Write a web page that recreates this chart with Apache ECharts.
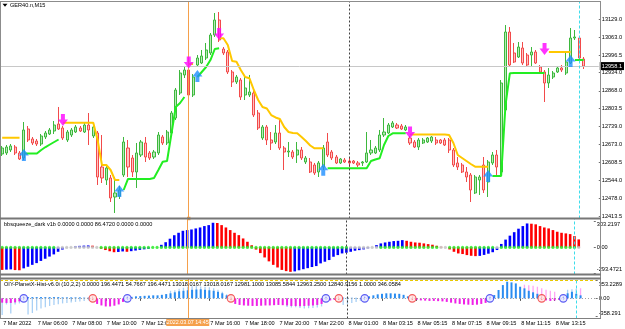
<!DOCTYPE html>
<html>
<head>
<meta charset="utf-8">
<title>GER40.n,M15</title>
<script src="https://cdn.jsdelivr.net/npm/echarts@6.0.0/dist/echarts.min.js"></script>
<style>
  html, body { margin: 0; padding: 0; background: #ffffff; }
  #chart { width: 625px; height: 329px; }
</style>
</head>
<body>
<div id="chart"></div>
<script>
// ---- values (GER40.n, M15, 7-8 Mar 2022) ----
const timeLabels = ['7 Mar 2022', '7 Mar 06:00', '7 Mar 08:00', '7 Mar 10:00', '7 Mar 12:00', '7 Mar 14:00',
  '7 Mar 16:00', '7 Mar 18:00', '7 Mar 20:00', '7 Mar 22:00', '8 Mar 01:00', '8 Mar 03:15', '8 Mar 05:15',
  '8 Mar 07:15', '8 Mar 09:15', '8 Mar 11:15', '8 Mar 13:15'];
const barCount = 138;          // time slots, the last few stay empty (chart shift)
const cursorBar = 43;
const cursorTime = '2022.03.07 14:45';
const daySepBar = 80;
const cyanBar = 133;

const priceTicks = [13129.0, 13063.0, 12996.5, 12934.0, 12868.0, 12803.5, 12739.0, 12673.0, 12608.5, 12544.0, 12478.0, 12413.5];
const lastPrice = 12958.1;

const opens = [
  12638.8, 12642.5, 12653.4, 12664.2, 12642.5, 12624.3, 12729.6, 12693.3, 12686.0, 12675.1,
  12700.6, 12711.5, 12722.3, 12747.8, 12733.2, 12689.7, 12707.8, 12718.7, 12733.2, 12718.7,
  12744.1, 12704.2, 12715.1, 12591.6, 12544.4, 12551.7, 12482.7, 12486.3, 12562.6, 12660.6,
  12624.3, 12573.5, 12635.2, 12678.8, 12642.5, 12627.9, 12642.5, 12700.6, 12678.8, 12715.1,
  12769.5, 12860.3, 12925.7, 12943.8, 12853.1, 12962.0, 12969.3, 12987.4, 13005.6, 13070.9,
  13125.4, 13020.1, 13009.2, 12936.6, 12900.3, 12907.5, 12853.1, 12853.1, 12860.3, 12787.7,
  12696.9, 12736.9, 12689.7, 12682.4, 12715.1, 12660.6, 12646.1, 12646.1, 12635.2, 12653.4,
  12609.8, 12609.8, 12598.9, 12573.5, 12591.6, 12682.4, 12646.1, 12627.9, 12606.2, 12617.0,
  12613.4, 12613.4, 12606.2, 12606.2, 12609.8, 12642.5, 12642.5, 12653.4, 12707.8, 12715.1,
  12736.9, 12744.1, 12740.5, 12726.0, 12696.9, 12682.4, 12664.2, 12678.8, 12682.4, 12686.0,
  12689.7, 12689.7, 12689.7, 12689.7, 12653.4, 12606.2, 12598.9, 12573.5, 12562.6, 12497.2,
  12544.4, 12598.9, 12537.2, 12606.2, 12635.2, 12573.5, 12798.6, 13081.8, 13005.6, 12991.0,
  13023.7, 12998.3, 12998.3, 13009.2, 12954.7, 12936.6, 12896.6, 12918.4, 12936.6, 12951.1,
  12932.9, 12969.3, 13060.0, 13060.0, 12983.8
];
const closes = [
  12660.6, 12664.2, 12667.9, 12642.5, 12620.7, 12726.0, 12689.7, 12678.8, 12675.1, 12704.2,
  12715.1, 12726.0, 12744.1, 12729.6, 12696.9, 12718.7, 12726.0, 12736.9, 12722.3, 12744.1,
  12726.0, 12736.9, 12555.3, 12551.7, 12588.0, 12479.1, 12497.2, 12508.1, 12682.4, 12591.6,
  12573.5, 12642.5, 12682.4, 12627.9, 12624.3, 12646.1, 12707.8, 12678.8, 12718.7, 12787.7,
  12871.2, 12932.9, 12943.8, 12853.1, 12918.4, 12987.4, 12994.7, 13016.5, 13070.9, 13125.4,
  13052.8, 13005.6, 12936.6, 12900.3, 12918.4, 12845.8, 12878.5, 12864.0, 12780.4, 12733.2,
  12736.9, 12689.7, 12678.8, 12715.1, 12660.6, 12646.1, 12649.7, 12627.9, 12653.4, 12624.3,
  12624.3, 12573.5, 12569.8, 12606.2, 12660.6, 12635.2, 12624.3, 12606.2, 12620.7, 12609.8,
  12606.2, 12606.2, 12598.9, 12609.8, 12642.5, 12653.4, 12660.6, 12707.8, 12718.7, 12744.1,
  12751.4, 12733.2, 12729.6, 12736.9, 12678.8, 12664.2, 12689.7, 12689.7, 12696.9, 12700.6,
  12678.8, 12678.8, 12671.5, 12653.4, 12598.9, 12591.6, 12573.5, 12555.3, 12508.1, 12555.3,
  12555.3, 12508.1, 12609.8, 12635.2, 12591.6, 12896.6, 13081.8, 12962.0, 12972.9, 13027.3,
  12969.3, 12962.0, 13009.2, 12969.3, 12936.6, 12896.6, 12925.7, 12932.9, 12951.1, 12943.8,
  12972.9, 13060.0, 13063.7, 12987.4, 12958.1
];
const lows = [
  12631.6, 12635.2, 12646.1, 12635.2, 12617.0, 12617.0, 12682.4, 12671.5, 12667.9, 12667.9,
  12693.3, 12707.8, 12711.5, 12726.0, 12689.7, 12682.4, 12700.6, 12715.1, 12718.7, 12715.1,
  12671.5, 12696.9, 12526.3, 12533.5, 12526.3, 12464.5, 12424.6, 12475.4, 12555.3, 12555.3,
  12555.3, 12515.4, 12627.9, 12609.8, 12617.0, 12620.7, 12635.2, 12671.5, 12671.5, 12707.8,
  12762.3, 12853.1, 12914.8, 12845.8, 12845.8, 12954.7, 12965.6, 12980.1, 12998.3, 13063.7,
  13045.5, 12998.3, 12929.3, 12882.1, 12893.0, 12834.9, 12834.9, 12845.8, 12773.2, 12726.0,
  12689.7, 12671.5, 12653.4, 12675.1, 12653.4, 12580.7, 12627.9, 12620.7, 12606.2, 12617.0,
  12602.5, 12569.8, 12562.6, 12555.3, 12580.7, 12627.9, 12617.0, 12602.5, 12602.5, 12606.2,
  12591.6, 12602.5, 12591.6, 12595.3, 12606.2, 12635.2, 12638.8, 12646.1, 12700.6, 12711.5,
  12733.2, 12729.6, 12726.0, 12722.3, 12671.5, 12660.6, 12653.4, 12675.1, 12678.8, 12678.8,
  12671.5, 12675.1, 12667.9, 12642.5, 12591.6, 12580.7, 12569.8, 12537.2, 12464.5, 12493.6,
  12490.0, 12497.2, 12482.7, 12598.9, 12562.6, 12562.6, 12791.3, 12954.7, 12969.3, 12987.4,
  12962.0, 12958.4, 12954.7, 12965.6, 12932.9, 12827.6, 12878.5, 12911.2, 12932.9, 12936.6,
  12925.7, 12965.6, 13052.8, 12980.1, 12947.5
];
const highs = [
  12667.9, 12671.5, 12675.1, 12671.5, 12649.7, 12755.0, 12740.5, 12700.6, 12693.3, 12711.5,
  12722.3, 12733.2, 12758.6, 12809.5, 12740.5, 12726.0, 12733.2, 12744.1, 12740.5, 12751.4,
  12787.7, 12744.1, 12722.3, 12707.8, 12598.9, 12562.6, 12555.3, 12522.6, 12700.6, 12689.7,
  12635.2, 12678.8, 12689.7, 12700.6, 12649.7, 12653.4, 12718.7, 12707.8, 12726.0, 12795.0,
  12878.5, 12943.8, 12958.4, 12958.4, 12929.3, 12998.3, 13016.5, 13041.9, 13078.2, 13150.8,
  13154.4, 13027.3, 13016.5, 12943.8, 12925.7, 12914.8, 12918.4, 12925.7, 12871.2, 12798.6,
  12744.1, 12744.1, 12718.7, 12744.1, 12769.5, 12667.9, 12682.4, 12653.4, 12682.4, 12664.2,
  12631.6, 12624.3, 12606.2, 12613.4, 12671.5, 12715.1, 12653.4, 12635.2, 12624.3, 12624.3,
  12624.3, 12617.0, 12613.4, 12613.4, 12718.7, 12689.7, 12667.9, 12726.0, 12769.5, 12751.4,
  12758.6, 12751.4, 12747.8, 12744.1, 12704.2, 12689.7, 12696.9, 12696.9, 12700.6, 12704.2,
  12700.6, 12693.3, 12696.9, 12696.9, 12660.6, 12627.9, 12606.2, 12591.6, 12569.8, 12562.6,
  12562.6, 12627.9, 12617.0, 12646.1, 12653.4, 12907.5, 13107.2, 13100.0, 13041.9, 13045.5,
  13045.5, 13005.6, 13027.3, 13016.5, 12962.0, 12943.8, 12951.1, 12940.2, 12958.4, 12962.0,
  13005.6, 13096.3, 13089.1, 13067.3, 12991.0
];

// trend line pieces: [first bar, values...]
const downTrendSegs = [
  [0, [12698.0, 12698.0, 12698.0, 12698.0, 12698.0]],
  [14, [12752.5, 12752.5, 12752.5, 12752.5, 12752.5, 12752.5, 12752.5, 12752.5, 12689.7, 12598.9, 12598.9, 12580.7, 12544.4, 12544.4]],
  [43, [12965.6, 12965.6]],
  [50, [13058.9, 13058.9, 13034.6, 12976.5, 12974.0, 12943.8, 12918.4, 12913.7, 12871.2, 12834.9, 12809.5, 12804.0,
        12780.4, 12771.4, 12765.9, 12736.9, 12718.7, 12715.1, 12714.0, 12700.6, 12686.0, 12669.7, 12659.5, 12659.5, 12659.5]],
  [94, [12709.6, 12709.6, 12709.6, 12709.6, 12709.6, 12709.6, 12709.6, 12709.6, 12709.6, 12707.8, 12678.8, 12635.2,
        12624.3, 12613.4, 12602.5, 12592.7, 12592.7, 12592.7, 12592.7]],
  [126, [13009.2, 13009.2, 13009.2, 13009.2, 13009.2, 13009.2]]
];
const upTrendSegs = [
  [5, [12640.6, 12640.6, 12640.6, 12640.6, 12653.4, 12664.2, 12673.3, 12682.4, 12691.5]],
  [28, [12508.1, 12548.1, 12548.1, 12548.1, 12548.1, 12548.1, 12548.1, 12551.7, 12580.7, 12610.9, 12613.4, 12711.5,
        12809.5, 12824.0, 12845.8]],
  [45, [12918.4, 12936.6, 12954.7, 12980.1, 13020.1, 13022.6]],
  [75, [12586.9, 12586.9, 12586.9, 12586.9, 12586.9, 12586.9, 12586.9, 12586.9, 12586.9, 12586.9, 12613.4, 12618.9,
        12623.2, 12671.5, 12704.2, 12714.0, 12714.0, 12714.0, 12714.0]],
  [113, [12558.9, 12558.9, 12558.9, 12816.7, 12931.8, 12932.9, 12932.9, 12932.9, 12932.9, 12932.9, 12932.9, 12932.9, 12932.9]],
  [132, [12980.1, 12980.1, 12980.1]]
];
const sellArrows = [[14, 12762.3], [43, 12971.0], [50, 13074.5], [94, 12717.0], [125, 13020.0]];
const buyArrows = [[5, 12635.2], [27, 12504.5], [45, 12922.0], [74, 12582.0], [112, 12559.0], [131, 12976.5]];

// bbsqueeze_dark window
const sqzLevels = [303.2197, 0, -293.4721];
const sqzLevelText = ['303.2197', '0.00', '-293.4721'];
const sqzHist = [
  -258, -255, -252, -260, -262, -240, -222, -200, -180, -155,
  -130, -105, -80, -50, -25, -10, -4, 12, 18, 21,
  23, 20, 6, -14, -30, -44, -55, -52, -46, -50,
  -43, -36, -28, -22, -15, -8, 6, 30, 60, 100,
  140, 168, 191, 199, 206, 218, 229, 245, 256, 283,
  280, 256, 229, 199, 168, 141, 103, 65, 25, -25,
  -65, -115, -160, -200, -230, -258, -272, -280, -275, -262,
  -250, -238, -225, -214, -183, -164, -145, -107, -88, -69,
  -61, -50, -38, -31, -23, -11, 4, 27, 46, 57,
  65, 73, 76, 84, 76, 65, 57, 54, 46, 38,
  31, 19, 8, -3, -23, -50, -69, -76, -88, -96,
  -100, -97, -86, -72, -55, -30, 40, 90, 135, 175,
  215, 245, 275, 272, 265, 245, 229, 218, 199, 180,
  168, 161, 153, 130, 92
];
const sqzColors =
  'rbbrrbbbbb' + 'bbbbbggbbb' + 'brgrrrrbbr' + 'bbbbbggbbb' + 'bbbbbbbbbb' +
  'rrrrrrrrrr' + 'rrrrrrrrbb' + 'bbbbbbbbbb' + 'bbbbbbgbbb' + 'bbbbrrrrrr' +
  'rrrgrrrrrr' + 'rbbbbbbbbb' + 'bbbrrrrrrr' + 'rrrrr';
const sqzGrayDots = [[13, 22], [81, 87], [102, 103], [115, 115], [134, 134]];

// OIY-PlanetX-Hist window
const pxLevels = [353.2289, 0, -358.291];
const pxLevelText = ['353.2289', '0.00', '-358.291'];
const pxHist = [
  -85, -90, -90, -80, -60, null, 25, 25, 25, 25,
  25, 25, 25, 25, 20, 20, 20, 20, 20, 15,
  15, null, -110, -140, -160, -160, -145, -120, -70, null,
  30, 40, 45, 50, 55, 60, 60, 70, 85, 100,
  120, 140, 150, 160, 170, 175, 180, 170, 160, 150,
  130, 100, 60, null, -110, -130, -140, -145, -150, -150,
  -145, -140, -140, -135, -130, -135, -140, -150, -150, -155,
  -150, -145, -140, -130, -110, null, -40, -30, null, 15,
  15, 12, 10, 8, null, 40, 60, 80, 90, 100,
  100, 95, 90, 70, 40, null, -30, -40, -45, -50,
  -50, -55, -60, -70, -85, -100, -110, -120, -125, -130,
  -125, -110, -90, null, 66, 165, 263, 329, 316, 296,
  230, 198, 150, 120, 90, null, -40, -50, -40, -30,
  null, 100, 130, 90, 60
];
const pxShade = [
  -330, -120, -300, -120, -100, null, -320, -290, -240, -200,
  -175, -150, -130, -115, -100, -90, -80, -70, -60, -50,
  -40, null, null, null, null, null, null, null, null, null,
  null, null, null, null, null, null, null, null, null, 150,
  160, 190, 210, 230, 240, 240, 235, 230, 220, 200,
  170, 130, 80, null, null, null, null, null, null, null,
  null, null, null, null, null, null, -170, -180, -175, -190,
  -200, -195, -190, -180, -160, null, null, null, null, -130,
  -110, -90, -70, -50, null, null, null, null, null, null,
  null, null, null, null, null, null, null, null, null, null,
  null, null, null, null, null, null, null, null, null, null,
  null, null, null, null, null, null, null, null, null, null,
  null, 270, 260, 250, 230, 200, 170, 150, 130, null,
  null, 170, 180, 190, 200
];
const pxShadePink = [[121, 128], [134, 134]];
const pxBuyDots = [5, 29, 75, 84, 113, 130];
const pxSellDots = [21, 53, 78, 95, 125];

// ---- chart ----
const FONT = "'Liberation Sans', Arial, sans-serif";
const FS = 5.6;
const txt = { fontFamily: FONT, fontSize: FS, color: '#000' };

const cats = [];
for (let i = 0; i < barCount; i++) cats.push('b' + i);

function placeSegs(segs) {
  const out = new Array(opens.length).fill(null);
  segs.forEach(([start, vals]) => vals.forEach((v, k) => { out[start + k] = v; }));
  return out;
}
function inRanges(i, ranges) {
  return ranges.some(([a, b]) => i >= a && i <= b);
}
function vLines(handles) {
  const cursor = { xAxis: cursorBar, lineStyle: { color: '#F5A04B', width: 1, type: 'solid' } };
  if (handles) {
    cursor.symbol = ['rect', 'rect'];
    cursor.symbolSize = 3.5;
  }
  return [
    cursor,
    { xAxis: daySepBar, lineStyle: { color: '#404040', width: 1, type: [2, 2] } },
    { xAxis: cyanBar, lineStyle: { color: '#3CDDEB', width: 1, type: [3, 2] } }
  ];
}
function levelAxis(gridIndex, min, max, levels, texts) {
  const near = (a, b) => Math.abs(a - b) < 1e-6;
  return {
    type: 'value', gridIndex, position: 'right', min, max,
    splitLine: { show: false }, axisLine: { show: false },
    axisTick: { show: true, customValues: levels, length: 2, lineStyle: { color: '#707070' } },
    axisLabel: {
      customValues: levels, margin: 3, ...txt,
      formatter: v => near(v, levels[0]) ? '{t|' + texts[0] + '}'
        : near(v, levels[2]) ? '{b|' + texts[2] + '}' : texts[1],
      rich: {
        t: { padding: [7, 0, 0, 0], ...txt },
        b: { padding: [0, 0, 7, 0], ...txt }
      }
    }
  };
}
const hiddenX = gridIndex => ({ type: 'category', gridIndex, data: cats, boundaryGap: true, show: false });

const option = {
  animation: false,
  backgroundColor: '#ffffff',
  textStyle: { fontFamily: FONT },
  grid: [
    { left: -0.2, right: 25, top: 1.5, height: 217 },
    { left: -0.2, right: 25, top: 218.5, height: 56 },
    { left: -0.2, right: 25, top: 278.5, height: 40 }
  ],
  xAxis: [
    hiddenX(0),
    hiddenX(1),
    {
      type: 'category', gridIndex: 2, data: cats, boundaryGap: true,
      axisLine: { show: false }, splitLine: { show: false },
      axisTick: { show: true, alignWithLabel: true, length: 2.5, interval: i => i % 8 === 0 && i / 8 < timeLabels.length,
        lineStyle: { color: '#505050' } },
      axisLabel: { show: true, interval: i => i % 8 === 0, align: 'left', margin: 1.5, padding: [0, 0, 0, 1], ...txt,
        formatter: (v, i) => (i === cursorBar - 3 ? '' : (timeLabels[i / 8] || '')) }
    },
    hiddenX(2)
  ],
  yAxis: [
    {
      type: 'value', gridIndex: 0, position: 'right', min: 12404.6, max: 13192.6,
      splitLine: { show: false }, axisLine: { show: false },
      axisTick: { show: true, customValues: priceTicks, length: 2, lineStyle: { color: '#707070' } },
      axisLabel: { customValues: priceTicks, margin: 3, formatter: v => v.toFixed(1), ...txt }
    },
    levelAxis(1, -310.7, 331.9, sqzLevels, sqzLevelText),
    levelAxis(2, -397.9, 392.7, pxLevels, pxLevelText)
  ],
  series: [
    {
      type: 'candlestick', xAxisIndex: 0, yAxisIndex: 0, barWidth: 2.6,
      data: opens.map((o, i) => [o, closes[i], lows[i], highs[i]]),
      itemStyle: { color: '#B8EAB8', color0: '#FFC2C2', borderColor: '#3DB83D', borderColor0: '#F24A4A', borderWidth: 1 },
      markLine: {
        silent: true, symbol: ['none', 'none'], animation: false, label: { show: false },
        data: [
          { yAxis: lastPrice, lineStyle: { color: '#C8C8C8', width: 1, type: 'solid' },
            label: { show: true, position: 'end', formatter: lastPrice.toFixed(1), backgroundColor: '#000',
              color: '#fff', padding: [1, 2, 1, 2], distance: 1, fontFamily: FONT, fontSize: FS } },
          ...vLines(true)
        ]
      }
    },
    {
      type: 'line', xAxisIndex: 0, yAxisIndex: 0, data: placeSegs(downTrendSegs),
      symbol: 'none', connectNulls: false, lineStyle: { color: '#FFC800', width: 2 }
    },
    {
      type: 'line', xAxisIndex: 0, yAxisIndex: 0, data: placeSegs(upTrendSegs),
      symbol: 'none', connectNulls: false, lineStyle: { color: '#22EE22', width: 2 }
    },
    {
      type: 'scatter', xAxisIndex: 0, yAxisIndex: 0, data: sellArrows, z: 5,
      symbol: 'path://M3,0L7,0L7,5L10,5L5,11L0,5L3,5Z', symbolSize: [10, 12],
      itemStyle: { color: '#FF00FF' }
    },
    {
      type: 'scatter', xAxisIndex: 0, yAxisIndex: 0, data: buyArrows, z: 5,
      symbol: 'path://M5,0L10,6L7,6L7,11L3,11L3,6L0,6Z', symbolSize: [10, 12],
      itemStyle: { color: '#1E8FFF' }
    },
    {
      type: 'bar', xAxisIndex: 1, yAxisIndex: 1, barWidth: 2.6,
      data: sqzHist.map((v, i) => ({ value: v, itemStyle: { color: { b: '#0000FF', r: '#FF0000', g: '#C0C0C0' }[sqzColors[i]] } })),
      markLine: { silent: true, symbol: ['none', 'none'], animation: false, label: { show: false }, data: vLines(false) }
    },
    {
      type: 'scatter', xAxisIndex: 1, yAxisIndex: 1, symbolSize: 3.2, z: 4,
      data: sqzHist.map((v, i) => ({ value: [i, 0], itemStyle: { color: inRanges(i, sqzGrayDots) ? '#C4C4C4' : '#22EE22' } }))
    },
    {
      type: 'bar', xAxisIndex: 3, yAxisIndex: 2, barWidth: 1.3,
      data: pxShade.map((v, i) => ({ value: v, itemStyle: { color: inRanges(i, pxShadePink) ? '#FFA6F5' : '#A9D0F5' } }))
    },
    {
      type: 'bar', xAxisIndex: 2, yAxisIndex: 2, barWidth: 2,
      data: pxHist.map(v => ({ value: v, itemStyle: { color: v >= 0 ? '#2A8CF0' : '#F020E8' } })),
      markLine: {
        silent: true, symbol: ['none', 'none'], animation: false, label: { show: false },
        data: [
          { yAxis: pxLevels[0], lineStyle: { color: '#E8C800', width: 1, type: [3, 2] } },
          { yAxis: 0, lineStyle: { color: '#A0A0A0', width: 1, type: [1, 2] } },
          { xAxis: cursorBar, lineStyle: { color: '#F5A04B', width: 1, type: 'solid' },
            label: { show: true, position: 'start', formatter: cursorTime, backgroundColor: '#F5A04B', color: '#fff',
              padding: [1, 0.5, 1, 0.5], distance: 0.5, fontFamily: FONT, fontSize: 5.4 } },
          { xAxis: daySepBar, lineStyle: { color: '#404040', width: 1, type: [2, 2] } },
          { xAxis: cyanBar, lineStyle: { color: '#3CDDEB', width: 1, type: [3, 2] } }
        ]
      }
    },
    {
      type: 'scatter', xAxisIndex: 2, yAxisIndex: 2, symbol: 'circle', symbolSize: 7.5, z: 5,
      data: pxBuyDots.map(i => [i, 0]),
      itemStyle: { color: '#E4E6FF', borderColor: '#3434F0', borderWidth: 1.1 },
      label: { show: true, position: 'inside', formatter: '\u2191', color: '#3434F0', fontSize: 6, fontWeight: 'bold' }
    },
    {
      type: 'scatter', xAxisIndex: 2, yAxisIndex: 2, symbol: 'circle', symbolSize: 7.5, z: 5,
      data: pxSellDots.map(i => [i, 0]),
      itemStyle: { color: '#FFE0E0', borderColor: '#F03434', borderWidth: 1.1 },
      label: { show: true, position: 'inside', formatter: '\u2193', color: '#F03434', fontSize: 6, fontWeight: 'bold' }
    }
  ],
  graphic: [
    { type: 'rect', z: 10, silent: true, shape: { x: 0, y: 1, width: 601, height: 1 }, style: { fill: '#8c8c8c' } },
    { type: 'rect', z: 10, silent: true, shape: { x: 0, y: 1, width: 1, height: 318 }, style: { fill: '#8c8c8c' } },
    { type: 'rect', z: 10, silent: true, shape: { x: 600, y: 1, width: 1, height: 318 }, style: { fill: '#8c8c8c' } },
    { type: 'rect', z: 10, silent: true, shape: { x: 0, y: 217.5, width: 601, height: 2 }, style: { fill: '#777777' } },
    { type: 'rect', z: 10, silent: true, shape: { x: 0, y: 273.5, width: 601, height: 2 }, style: { fill: '#777777' } },
    { type: 'rect', z: 10, silent: true, shape: { x: 0, y: 277.5, width: 601, height: 2 }, style: { fill: '#777777' } },
    { type: 'rect', z: 10, silent: true, shape: { x: 0, y: 318, width: 601, height: 1 }, style: { fill: '#808080' } },
    { type: 'polygon', z: 10, silent: true, shape: { points: [[2.5, 3.8], [7.5, 3.8], [5, 6.8]] }, style: { fill: '#000' } },
    { type: 'text', z: 10, silent: true, x: 10, y: 5.5,
      style: { text: 'GER40.n,M15', fill: '#000', font: FS + 'px ' + FONT, verticalAlign: 'middle', textVerticalAlign: 'middle' } },
    { type: 'text', z: 10, silent: true, x: 4, y: 224.5,
      style: { text: 'bbsqueeze_dark v1b 0.0000 0.0000 86.4720 0.0000 0.0000', fill: '#000', font: FS + 'px ' + FONT,
        verticalAlign: 'middle', textVerticalAlign: 'middle' } },
    { type: 'text', z: 10, silent: true, x: 4, y: 284,
      style: { text: 'OIY-PlanetX-Hist-v6.0i (10,2,2) 0.0000 196.4471 54.7667 196.4471 13018.0167 13018.0167 12981.1000 13085.5844 12963.2500 12840.9156 1.0000 346.0584',
        fill: '#000', font: FS + 'px ' + FONT, verticalAlign: 'middle', textVerticalAlign: 'middle' } }
  ]
};

const chart = echarts.init(document.getElementById('chart'));
chart.setOption(option);
window.addEventListener('resize', () => chart.resize());
</script>
</body>
</html>
